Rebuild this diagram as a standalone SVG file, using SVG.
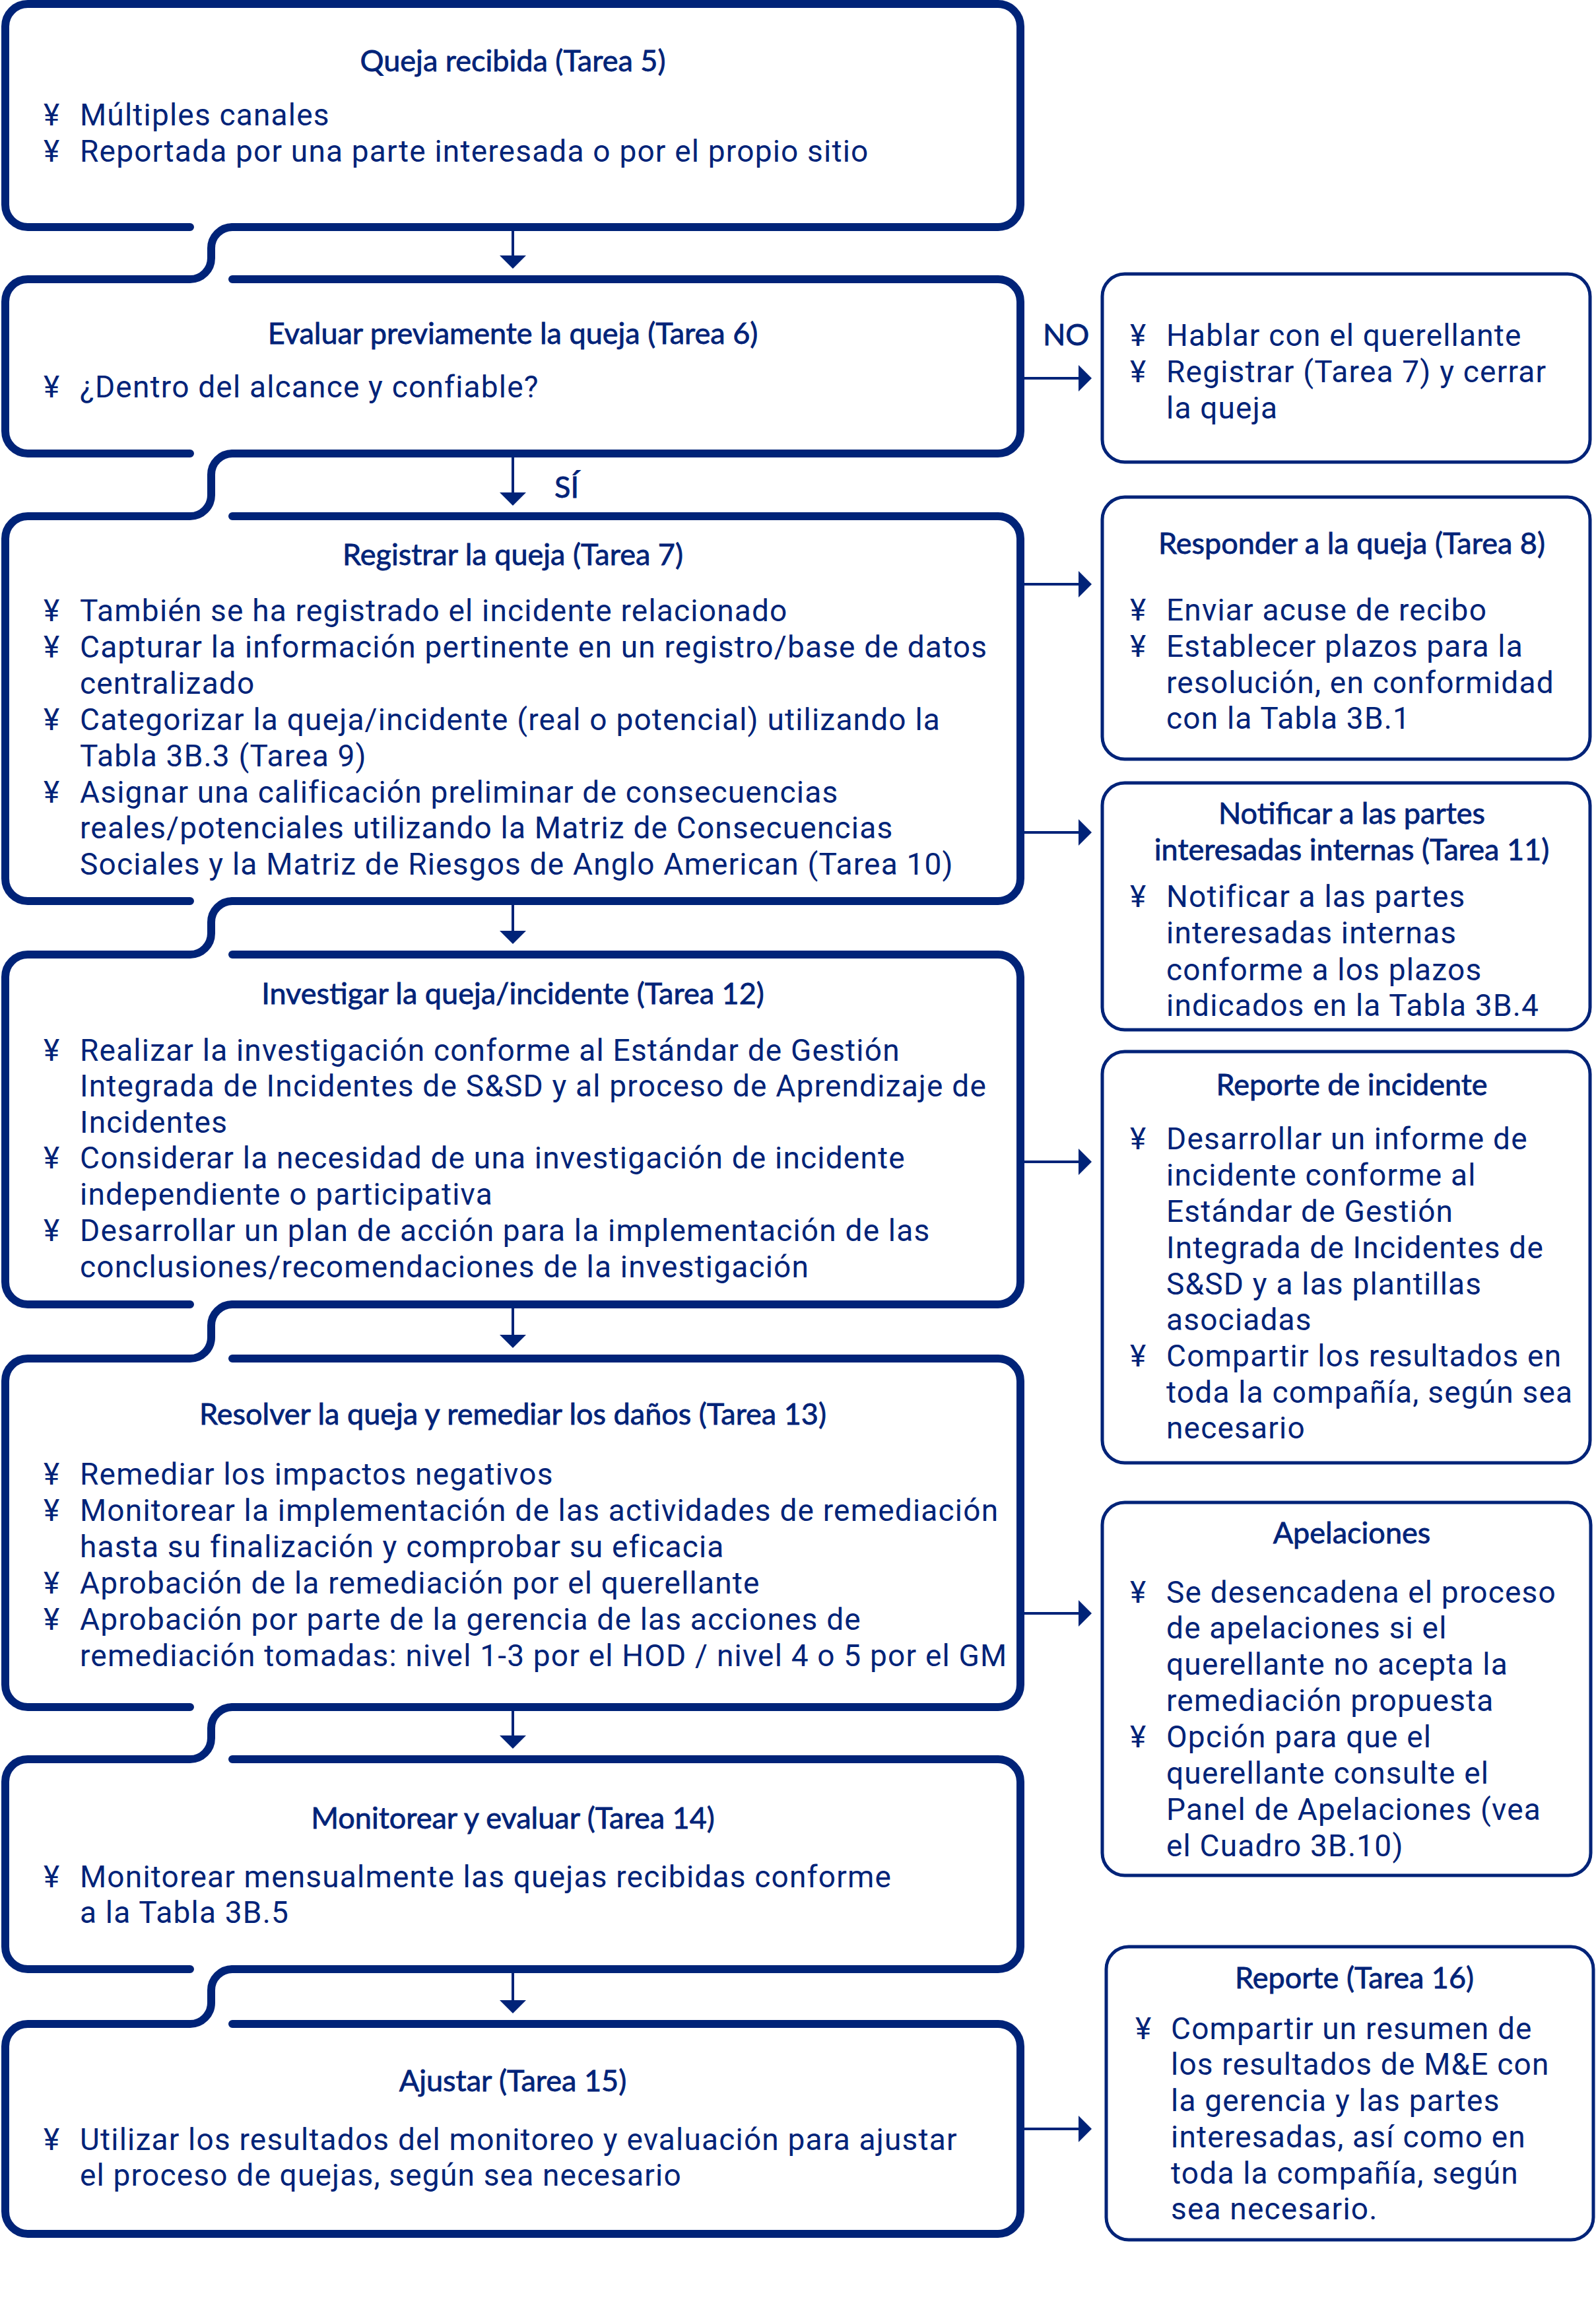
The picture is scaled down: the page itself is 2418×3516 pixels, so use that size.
<svg xmlns="http://www.w3.org/2000/svg" width="2418" height="3516" viewBox="0 0 2418 3516">
<style>
.box{fill:none;stroke:#002378;stroke-width:12;stroke-linecap:round;stroke-linejoin:round}
.rbox{fill:none;stroke:#002378;stroke-width:5}
.t{font-family:Lato,"Noto Sans",sans-serif;font-size:45px;fill:#002378;stroke:#002378;stroke-width:0.8px;text-anchor:middle}
.lbl{font-family:Lato,"Noto Sans",sans-serif;font-size:45px;fill:#002378;stroke:#002378;stroke-width:0.8px}
.b{font-family:Roboto,"Liberation Sans",sans-serif;font-size:46px;letter-spacing:1.2px;fill:#002378}
.c{fill:none;stroke:#002378;stroke-width:4;marker-end:url(#ah)}
</style>
<defs>
<marker id="ah" markerUnits="userSpaceOnUse" viewBox="0 0 20 40" markerWidth="20" markerHeight="40" refX="10" refY="20" orient="auto">
<path d="M0,0 L20,20 L0,40 Z" fill="#002378"/>
</marker>
</defs>
<rect width="2418" height="3516" fill="#ffffff"/>

<g id="connectors">
<line class="c" x1="777" y1="350" x2="777" y2="397"/>
<line class="c" x1="777" y1="693" x2="777" y2="756"/>
<line class="c" x1="777" y1="1371" x2="777" y2="1420"/>
<line class="c" x1="777" y1="1982" x2="777" y2="2032"/>
<line class="c" x1="777" y1="2592" x2="777" y2="2639"/>
<line class="c" x1="777" y1="2989" x2="777" y2="3040"/>
<line class="c" x1="1552" y1="573" x2="1644" y2="573"/>
<line class="c" x1="1552" y1="885" x2="1644" y2="885"/>
<line class="c" x1="1552" y1="1261" x2="1644" y2="1261"/>
<line class="c" x1="1552" y1="1760" x2="1644" y2="1760"/>
<line class="c" x1="1552" y1="2444" x2="1644" y2="2444"/>
<line class="c" x1="1552" y1="3225" x2="1644" y2="3225"/>
<text class="lbl" x="1580" y="523">NO</text>
<text class="lbl" x="840" y="754">SÍ</text>
</g>

<g id="n1">
<path class="box" d="M288,344 L42,344 A34,34 0 0 1 8,310 L8,40 A34,34 0 0 1 42,6 L1512,6 A34,34 0 0 1 1546,40 L1546,310 A34,34 0 0 1 1512,344 L352,344"/>
<text class="t" x="777" y="108">Queja recibida (Tarea 5)</text>
<text class="b" y="190"><tspan x="66">¥</tspan><tspan x="121">Múltiples canales</tspan></text>
<text class="b" y="245"><tspan x="66">¥</tspan><tspan x="121">Reportada por una parte interesada o por el propio sitio</tspan></text>
</g>

<g id="n2">
<path class="box" d="M352,344 A32,32 0 0 0 320,376 L320,391 A32,32 0 0 1 288,423 L42,423 A34,34 0 0 0 8,457 L8,653 A34,34 0 0 0 42,687 L288,687 M352,423 L1512,423 A34,34 0 0 1 1546,457 L1546,653 A34,34 0 0 1 1512,687 L352,687"/>
<text class="t" x="777" y="521">Evaluar previamente la queja (Tarea 6)</text>
<text class="b" y="602"><tspan x="66">¥</tspan><tspan x="121">¿Dentro del alcance y confiable?</tspan></text>
</g>

<g id="n3">
<path class="box" d="M352,687 A32,32 0 0 0 320,719 L320,750 A32,32 0 0 1 288,782 L42,782 A34,34 0 0 0 8,816 L8,1331 A34,34 0 0 0 42,1365 L288,1365 M352,782 L1512,782 A34,34 0 0 1 1546,816 L1546,1331 A34,34 0 0 1 1512,1365 L352,1365"/>
<text class="t" x="777" y="856">Registrar la queja (Tarea 7)</text>
<text class="b" y="941"><tspan x="66">¥</tspan><tspan x="121">También se ha registrado el incidente relacionado</tspan></text>
<text class="b" y="996"><tspan x="66">¥</tspan><tspan x="121">Capturar la información pertinente en un registro/base de datos</tspan></text>
<text class="b" x="121" y="1051">centralizado</text>
<text class="b" y="1106"><tspan x="66">¥</tspan><tspan x="121">Categorizar la queja/incidente (real o potencial) utilizando la</tspan></text>
<text class="b" x="121" y="1161">Tabla 3B.3 (Tarea 9)</text>
<text class="b" y="1216"><tspan x="66">¥</tspan><tspan x="121">Asignar una calificación preliminar de consecuencias</tspan></text>
<text class="b" x="121" y="1270">reales/potenciales utilizando la Matriz de Consecuencias</text>
<text class="b" x="121" y="1325">Sociales y la Matriz de Riesgos de Anglo American (Tarea 10)</text>
</g>

<g id="n4">
<path class="box" d="M352,1365 A32,32 0 0 0 320,1397 L320,1414 A32,32 0 0 1 288,1446 L42,1446 A34,34 0 0 0 8,1480 L8,1942 A34,34 0 0 0 42,1976 L288,1976 M352,1446 L1512,1446 A34,34 0 0 1 1546,1480 L1546,1942 A34,34 0 0 1 1512,1976 L352,1976"/>
<text class="t" x="777" y="1521">Investigar la queja/incidente (Tarea 12)</text>
<text class="b" y="1607"><tspan x="66">¥</tspan><tspan x="121">Realizar la investigación conforme al Estándar de Gestión</tspan></text>
<text class="b" x="121" y="1661">Integrada de Incidentes de S&amp;SD y al proceso de Aprendizaje de</text>
<text class="b" x="121" y="1716">Incidentes</text>
<text class="b" y="1770"><tspan x="66">¥</tspan><tspan x="121">Considerar la necesidad de una investigación de incidente</tspan></text>
<text class="b" x="121" y="1825">independiente o participativa</text>
<text class="b" y="1880"><tspan x="66">¥</tspan><tspan x="121">Desarrollar un plan de acción para la implementación de las</tspan></text>
<text class="b" x="121" y="1935">conclusiones/recomendaciones de la investigación</text>
</g>

<g id="n5">
<path class="box" d="M352,1976 A32,32 0 0 0 320,2008 L320,2026 A32,32 0 0 1 288,2058 L42,2058 A34,34 0 0 0 8,2092 L8,2552 A34,34 0 0 0 42,2586 L288,2586 M352,2058 L1512,2058 A34,34 0 0 1 1546,2092 L1546,2552 A34,34 0 0 1 1512,2586 L352,2586"/>
<text class="t" x="777" y="2158">Resolver la queja y remediar los daños (Tarea 13)</text>
<text class="b" y="2249"><tspan x="66">¥</tspan><tspan x="121">Remediar los impactos negativos</tspan></text>
<text class="b" y="2304"><tspan x="66">¥</tspan><tspan x="121">Monitorear la implementación de las actividades de remediación</tspan></text>
<text class="b" x="121" y="2359">hasta su finalización y comprobar su eficacia</text>
<text class="b" y="2414"><tspan x="66">¥</tspan><tspan x="121">Aprobación de la remediación por el querellante</tspan></text>
<text class="b" y="2469"><tspan x="66">¥</tspan><tspan x="121">Aprobación por parte de la gerencia de las acciones de</tspan></text>
<text class="b" x="121" y="2524">remediación tomadas: nivel 1-3 por el HOD / nivel 4 o 5 por el GM</text>
</g>

<g id="n6">
<path class="box" d="M352,2586 A32,32 0 0 0 320,2618 L320,2633 A32,32 0 0 1 288,2665 L42,2665 A34,34 0 0 0 8,2699 L8,2949 A34,34 0 0 0 42,2983 L288,2983 M352,2665 L1512,2665 A34,34 0 0 1 1546,2699 L1546,2949 A34,34 0 0 1 1512,2983 L352,2983"/>
<text class="t" x="777" y="2770">Monitorear y evaluar (Tarea 14)</text>
<text class="b" y="2859"><tspan x="66">¥</tspan><tspan x="121">Monitorear mensualmente las quejas recibidas conforme</tspan></text>
<text class="b" x="121" y="2913">a la Tabla 3B.5</text>
</g>

<g id="n7">
<path class="box" d="M352,2983 A32,32 0 0 0 320,3015 L320,3034 A32,32 0 0 1 288,3066 L42,3066 A34,34 0 0 0 8,3100 L8,3350 A34,34 0 0 0 42,3384 L1512,3384 A34,34 0 0 0 1546,3350 L1546,3100 A34,34 0 0 0 1512,3066 L352,3066"/>
<text class="t" x="777" y="3168">Ajustar (Tarea 15)</text>
<text class="b" y="3257"><tspan x="66">¥</tspan><tspan x="121">Utilizar los resultados del monitoreo y evaluación para ajustar</tspan></text>
<text class="b" x="121" y="3311">el proceso de quejas, según sea necesario</text>
</g>

<g id="r1">
<rect class="rbox" x="1670" y="415" width="739" height="285" rx="34"/>
<text class="b" y="524"><tspan x="1712">¥</tspan><tspan x="1767">Hablar con el querellante</tspan></text>
<text class="b" y="579"><tspan x="1712">¥</tspan><tspan x="1767">Registrar (Tarea 7) y cerrar</tspan></text>
<text class="b" x="1767" y="634">la queja</text>
</g>

<g id="r2">
<rect class="rbox" x="1670" y="753" width="739" height="397" rx="34"/>
<text class="t" x="2048" y="839">Responder a la queja (Tarea 8)</text>
<text class="b" y="940"><tspan x="1712">¥</tspan><tspan x="1767">Enviar acuse de recibo</tspan></text>
<text class="b" y="995"><tspan x="1712">¥</tspan><tspan x="1767">Establecer plazos para la</tspan></text>
<text class="b" x="1767" y="1050">resolución, en conformidad</text>
<text class="b" x="1767" y="1104">con la Tabla 3B.1</text>
</g>

<g id="r3">
<rect class="rbox" x="1670" y="1186" width="739" height="374" rx="34"/>
<text class="t" x="2048" y="1248">Notificar a las partes</text>
<text class="t" x="2048" y="1303">interesadas internas (Tarea 11)</text>
<text class="b" y="1374"><tspan x="1712">¥</tspan><tspan x="1767">Notificar a las partes</tspan></text>
<text class="b" x="1767" y="1429">interesadas internas</text>
<text class="b" x="1767" y="1485">conforme a los plazos</text>
<text class="b" x="1767" y="1539">indicados en la Tabla 3B.4</text>
</g>

<g id="r4">
<rect class="rbox" x="1670" y="1593" width="739" height="623" rx="34"/>
<text class="t" x="2048" y="1659">Reporte de incidente</text>
<text class="b" y="1741"><tspan x="1712">¥</tspan><tspan x="1767">Desarrollar un informe de</tspan></text>
<text class="b" x="1767" y="1796">incidente conforme al</text>
<text class="b" x="1767" y="1851">Estándar de Gestión</text>
<text class="b" x="1767" y="1906">Integrada de Incidentes de</text>
<text class="b" x="1767" y="1961">S&amp;SD y a las plantillas</text>
<text class="b" x="1767" y="2015">asociadas</text>
<text class="b" y="2070"><tspan x="1712">¥</tspan><tspan x="1767">Compartir los resultados en</tspan></text>
<text class="b" x="1767" y="2125">toda la compañía, según sea</text>
<text class="b" x="1767" y="2179">necesario</text>
</g>

<g id="r5">
<rect class="rbox" x="1670" y="2276" width="740" height="565" rx="34"/>
<text class="t" x="2048" y="2338">Apelaciones</text>
<text class="b" y="2428"><tspan x="1712">¥</tspan><tspan x="1767">Se desencadena el proceso</tspan></text>
<text class="b" x="1767" y="2482">de apelaciones si el</text>
<text class="b" x="1767" y="2537">querellante no acepta la</text>
<text class="b" x="1767" y="2592">remediación propuesta</text>
<text class="b" y="2647"><tspan x="1712">¥</tspan><tspan x="1767">Opción para que el</tspan></text>
<text class="b" x="1767" y="2702">querellante consulte el</text>
<text class="b" x="1767" y="2757">Panel de Apelaciones (vea</text>
<text class="b" x="1767" y="2812">el Cuadro 3B.10)</text>
</g>

<g id="r6">
<rect class="rbox" x="1676" y="2949" width="738" height="444" rx="34"/>
<text class="t" x="2052" y="3012">Reporte (Tarea 16)</text>
<text class="b" y="3089"><tspan x="1720">¥</tspan><tspan x="1774">Compartir un resumen de</tspan></text>
<text class="b" x="1774" y="3143">los resultados de M&amp;E con</text>
<text class="b" x="1774" y="3198">la gerencia y las partes</text>
<text class="b" x="1774" y="3253">interesadas, así como en</text>
<text class="b" x="1774" y="3308">toda la compañía, según</text>
<text class="b" x="1774" y="3362">sea necesario.</text>
</g>
</svg>
